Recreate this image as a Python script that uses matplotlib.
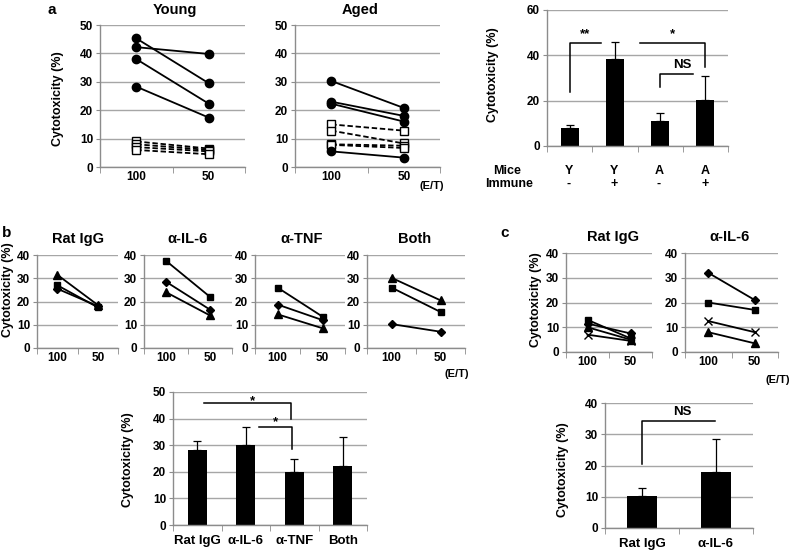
import numpy as np
import matplotlib
matplotlib.use("Agg")
import matplotlib.pyplot as plt

plt.rcParams['font.family'] = ['Liberation Sans', 'DejaVu Sans']
plt.rcParams['font.weight'] = 'bold'

# ---- data ----
et_labels = ["100", "50"]

# panel a, lines (E/T 100 -> 50)
young_fill = [[45.3, 29.5], [42.2, 39.8], [38.0, 22.3], [28.3, 17.4]]
young_open = [[9.0, 6.5], [8.0, 6.0], [7.0, 5.5], [6.0, 4.5]]
aged_fill = [[30.3, 20.8], [23.0, 18.0], [22.3, 16.0], [5.5, 3.3]]
aged_open = [[15.0, 12.8], [12.8, 8.3], [8.0, 7.5], [7.8, 6.7]]

# panel a, bars
a_mice = ["Y", "Y", "A", "A"]
a_immune = ["-", "+", "-", "+"]
a_mean = [7.8, 38.5, 11.0, 20.5]
a_err = [1.4, 7.5, 3.5, 10.5]

# panel b, lines
b_titles = ["Rat IgG", "α-IL-6", "α-TNF", "Both"]
b_square = [[27.0, 17.5], [37.5, 22.0], [26.0, 13.5], [26.0, 15.5]]
b_diamond = [[25.5, 18.0], [28.5, 16.5], [18.7, 12.0], [10.3, 7.0]]
b_triangle = [[31.5, 18.5], [24.0, 14.0], [14.5, 8.5], [30.2, 20.5]]

# panel b, bars
b_mean = [28.2, 30.0, 19.8, 22.2]
b_err = [3.3, 7.0, 4.9, 10.8]

# panel c, lines
c_titles = ["Rat IgG", "α-IL-6"]
c_square = [[13.0, 5.5], [20.0, 17.0]]
c_diamond = [[11.5, 7.5], [32.0, 21.0]]
c_triangle = [[10.0, 5.0], [8.0, 3.5]]
c_cross = [[7.0, 4.5], [12.5, 8.0]]

# panel c, bars
c_labels = ["Rat IgG", "α-IL-6"]
c_mean = [10.3, 18.0]
c_err = [2.4, 10.5]

W, H = 793, 554
fig = plt.figure(figsize=(W / 100, H / 100), dpi=100)
GRID = '#a6a6a6'
AX = '#8c8c8c'


def box(l, r, t, b):
    return [l / W, 1 - b / H, (r - l) / W, (b - t) / H]


def ftext(x, y, s, size=8.5, **kw):
    fig.text(x / W, 1 - y / H, s, ha='center', va='center',
             fontsize=size, fontweight='bold', **kw)


def style(ax, ymax, ystep, ncat, labels=None, xsize=8.5, xpad=3):
    ax.set_xlim(-0.5, ncat - 0.5)
    ax.set_ylim(0, ymax)
    ax.set_yticks(np.arange(0, ymax + 1, ystep))
    ax.yaxis.grid(True, color=GRID, lw=1)
    ax.set_axisbelow(True)
    for s in ['top', 'right']:
        ax.spines[s].set_visible(False)
    for s in ['left', 'bottom']:
        ax.spines[s].set_color(AX)
        ax.spines[s].set_linewidth(1)
    ax.set_xticks(np.arange(ncat))
    if labels is None:
        ax.set_xticklabels([])
    else:
        ax.set_xticklabels(labels)
    ax.set_xticks(np.arange(ncat + 1) - 0.5, minor=True)
    ax.tick_params(axis='x', which='major', length=0, labelsize=xsize, pad=xpad)
    ax.tick_params(axis='x', which='minor', length=4, color=AX)
    ax.tick_params(axis='y', length=3, color=AX, labelsize=8.5, pad=2)
    for t in ax.get_xticklabels() + ax.get_yticklabels():
        t.set_fontweight('bold')


def lines(ax, data, marker, ms, ls='-', mfc='black'):
    for v in data:
        ln, = ax.plot([0, 1], v, color='black', lw=1.3, ls=ls, marker=marker,
                      ms=ms, mfc=mfc, mec='black', mew=1.0, clip_on=False, zorder=3)
        if ls == '--':
            ln.set_dashes((3, 1.5))


def bars(ax, mean, err):
    x = np.arange(len(mean))
    ax.bar(x, mean, width=0.4, color='black', zorder=2)
    ax.errorbar(x, mean, yerr=[np.zeros(len(err)), err], fmt='none',
                ecolor='black', elinewidth=0.9, capsize=3, capthick=0.9, zorder=3)


def bracket(ax, xs, ys):
    ax.plot(xs, ys, color='black', lw=1.1, clip_on=False, zorder=4)


def mark(ax, x, y, s):
    ax.text(x, y, s, ha='center', va='center', fontsize=9.5, fontweight='bold')


# ---- panel a ----
ax = fig.add_axes(box(100, 245, 25, 167))
style(ax, 50, 10, 2, et_labels)
lines(ax, young_open, 's', 5.5, ls='--', mfc='white')
lines(ax, young_fill, 'o', 6)

ax = fig.add_axes(box(295, 440, 25, 167))
style(ax, 50, 10, 2, et_labels)
lines(ax, aged_open, 's', 5.5, ls='--', mfc='white')
lines(ax, aged_fill, 'o', 6)

ftext(52, 10, "a", size=11)
ftext(175, 10, "Young", size=10.5)
ftext(360, 10, "Aged", size=10.5)
ftext(58, 99, "Cytotoxicity (%)", size=9, rotation=90)
ftext(432, 186, "(E/T)", size=8)

ax = fig.add_axes(box(547, 728, 10, 146))
style(ax, 60, 20, 4)
bars(ax, a_mean, a_err)
bracket(ax, [0, 0, 0.69], [23.8, 45.3, 45.3])
bracket(ax, [1.56, 3, 3], [45.3, 45.3, 34.9])
bracket(ax, [2, 2, 2.73], [26.0, 31.8, 31.8])
mark(ax, 0.34, 49.5, "**")
mark(ax, 2.28, 49.5, "*")
mark(ax, 2.5, 35.8, "NS")
ftext(493, 75, "Cytotoxicity (%)", size=9, rotation=90)
ftext(507, 171, "Mice", size=9)
ftext(509, 184, "Immune", size=9)
for xp, m, im in zip([569, 614, 659, 705], a_mice, a_immune):
    ftext(xp, 171, m, size=9)
    ftext(xp, 184, im, size=9)

# ---- panel b ----
b_boxes = [(37, 118), (144, 232), (255, 345), (367, 465)]
b_title_x = [78, 187, 302, 415]
for i, (l, r) in enumerate(b_boxes):
    ax = fig.add_axes(box(l, r, 255, 348))
    style(ax, 40, 10, 2, et_labels)
    lines(ax, [b_square[i]], 's', 5)
    lines(ax, [b_diamond[i]], 'D', 4)
    lines(ax, [b_triangle[i]], '^', 6)
    ftext(b_title_x[i], 239, b_titles[i], size=10.5)

ftext(7, 233, "b", size=11)
ftext(8, 290, "Cytotoxicity (%)", size=9, rotation=90)
ftext(457, 374, "(E/T)", size=8)

ax = fig.add_axes(box(173, 367, 392, 525))
style(ax, 50, 10, 4, b_titles, xsize=9.5, xpad=7)
bars(ax, b_mean, b_err)
bracket(ax, [0.14, 1.93, 1.93], [45.9, 45.9, 39.8])
bracket(ax, [1.27, 1.95, 1.95], [36.8, 36.8, 28.6])
mark(ax, 1.13, 46.5, "*")
mark(ax, 1.62, 38.5, "*")
ftext(128, 460, "Cytotoxicity (%)", size=9, rotation=90)

# ---- panel c ----
c_boxes = [(566, 652), (685, 778)]
c_title_x = [613, 729]
for i, (l, r) in enumerate(c_boxes):
    ax = fig.add_axes(box(l, r, 253, 352))
    style(ax, 40, 10, 2, et_labels)
    lines(ax, [c_cross[i]], 'x', 6)
    lines(ax, [c_triangle[i]], '^', 6)
    lines(ax, [c_diamond[i]], 'D', 4)
    lines(ax, [c_square[i]], 's', 5)
    ftext(c_title_x[i], 237, c_titles[i], size=10.5)

ftext(505, 233, "c", size=11)
ftext(536, 300, "Cytotoxicity (%)", size=9, rotation=90)
ftext(778, 380, "(E/T)", size=8)

ax = fig.add_axes(box(605, 753, 403, 528))
style(ax, 40, 10, 2, c_labels, xsize=9.5, xpad=7)
bars(ax, c_mean, c_err)
bracket(ax, [0, 0, 0.99], [20.5, 34.2, 34.2])
mark(ax, 0.54, 37.2, "NS")
ftext(563, 470, "Cytotoxicity (%)", size=9, rotation=90)

fig.savefig("out.png", dpi=100)
